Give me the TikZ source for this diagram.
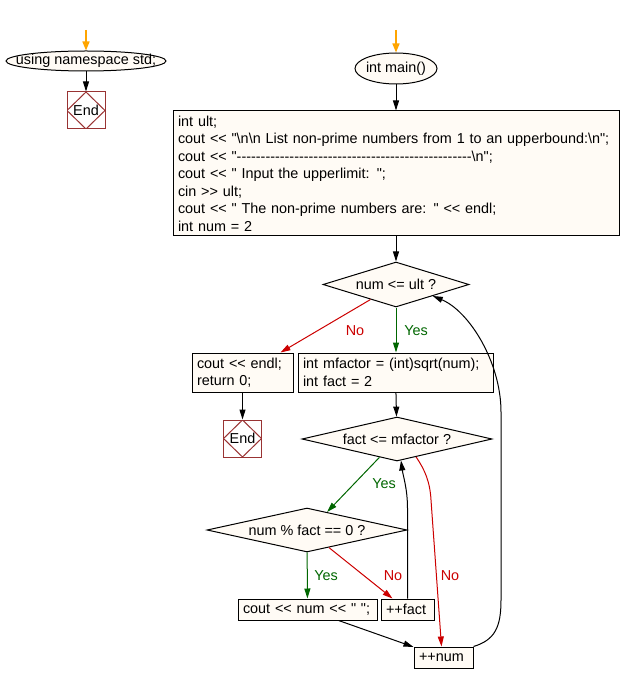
\documentclass[tikz,border=0pt]{standalone}
\usepackage{fontspec}
\newfontfamily\flowfont{Liberation Sans}
\usetikzlibrary{shapes.geometric,arrows.meta,calc}
\definecolor{flowfill}{HTML}{FFFBF5}
\definecolor{flowgreen}{HTML}{006600}
\definecolor{flowred}{HTML}{CC0000}
\definecolor{flowend}{HTML}{993333}
\definecolor{floworange}{HTML}{FFA500}
\newcommand{\bsl}{\textbackslash}
\tikzset{
  flow/.style={font=\flowfont\fontsize{14.4}{17.5}\selectfont},
  proc/.style={flow, draw, fill=flowfill, align=left, inner xsep=5pt, inner ysep=0pt},
  term/.style={flow, ellipse, draw, fill=flowfill, inner sep=0pt},
  decide/.style={flow, diamond, draw, fill=flowfill, aspect=4.5, inner sep=0pt},
  stopbox/.style={flow, draw=flowend, fill=white, minimum width=38pt, minimum height=37pt, inner sep=0pt,
    path picture={\draw[flowend] (path picture bounding box.north) -- (path picture bounding box.east)
      -- (path picture bounding box.south) -- (path picture bounding box.west) -- cycle;}},
  link/.style={-{Triangle[length=10pt,width=6pt]}, black},
  yeslink/.style={link, flowgreen},
  nolink/.style={link, flowred},
  entry/.style={-{Triangle[length=9pt,width=7pt]}, floworange, line width=1.6pt},
  yeslabel/.style={flow, text=flowgreen},
  nolabel/.style={flow, text=flowred},
}

\begin{document}
\begin{tikzpicture}[x=1pt, y=-1pt, line width=1pt]
  \useasboundingbox (0,0) rectangle (621,684);

  % namespace part
  \node[term, minimum width=160pt, minimum height=20pt] (start1) at (86,61) {\makebox[90pt][c]{using namespace std;}};
  \node[stopbox] (stop1) at (86,110.5) {End};

  % main
  \node[term, minimum width=82pt, minimum height=31pt] (start2) at (396,68.5) {\makebox[50pt][c]{int main()}};
  \node[proc, text width=436pt, minimum height=125pt] (init) at (396,173.5) {int ult;\\
    cout << "\bsl n\bsl n List non-prime numbers from 1 to an upperbound:\bsl n";\\
    cout << "-------------------------------------------------\bsl n";\\
    cout << " Input the upperlimit: ";\\
    cin >> ult;\\
    cout << " The non-prime numbers are: " << endl;\\
    int num = 2};
  \node[decide, minimum width=146pt, minimum height=45pt] (cond1) at (396,284.5) {num <= ult ?};
  \node[proc, text width=91pt, minimum height=39pt] (ret) at (242.5,372.5) {cout << endl;\\ return 0;};
  \node[proc, text width=185pt, minimum height=39pt] (setup) at (395.5,372.5) {int mfactor = (int)sqrt(num);\\ int fact = 2};
  \node[stopbox] (stop2) at (242.5,438.5) {End};

  % inner loop
  \node[decide, minimum width=190pt, minimum height=44pt] (cond2) at (397,439) {fact <= mfactor ?};
  \node[decide, minimum width=200pt, minimum height=44pt] (cond3) at (307,530) {num \% fact == 0 ?};
  \node[proc, text width=129pt, minimum height=21pt] (print) at (307.5,609.5) {cout << num << " ";};
  \node[proc, text width=43pt, minimum height=21pt] (incfact) at (407.5,609.5) {++fact};
  \node[proc, text width=49pt, minimum height=21pt] (incnum) at (443.5,657.5) {++num};

  % labels
  \node[nolabel] (no1) at (355,331) {No};
  \node[yeslabel] (yes1) at (416,331) {Yes};
  \node[yeslabel] (yes2) at (384,484) {Yes};
  \node[yeslabel] (yes3) at (326,576) {Yes};
  \node[nolabel] (no3) at (393,576) {No};
  \node[nolabel] (no2) at (450,576) {No};

  % connectors
  \coordinate (in1) at (86,30);
  \coordinate (in2) at (396,30);
  \draw[entry] (in1) -- (start1);
  \draw[link] (start1) -- (stop1);
  \draw[entry] (in2) -- (start2);
  \draw[link] (start2) -- (init);
  \draw[link] (init) -- (cond1);
  \draw[nolink] (cond1) -- ($(ret.north east)+(-13,0)$);
  \draw[yeslink] (cond1.south) -- (cond1.south |- setup.north);
  \draw[link] (ret) -- (stop2);
  \draw[link] (setup) -- (cond2);
  \draw[yeslink] (cond2) -- ($(cond3.north)!0.2!(cond3.east)$);
  \draw[yeslink] (cond3) -- (print);
  \draw[nolink] (cond3) -- ($(incfact.north west)+(12,0)$);
  \draw[link] (incfact.north) -- ++(0,-90) .. controls +(0,-20) and +(2,15) .. ($(cond2.south)+(4,-1)$);
  \draw[nolink] ($(cond2.south)!0.2!(cond2.east)$) .. controls (425,470) and (430,482) .. (431,500)
    -- ($(incnum.north west)+(28,0)$);
  \draw[link] (print) -- (incnum);
  \draw[link] (incnum.north east) .. controls (495,640) and (501,627) .. (501,600) -- (501,412)
    .. controls (501,362) and (469,311) .. ($(cond1.east)!0.5!(cond1.south)$);
\end{tikzpicture}
\end{document}
